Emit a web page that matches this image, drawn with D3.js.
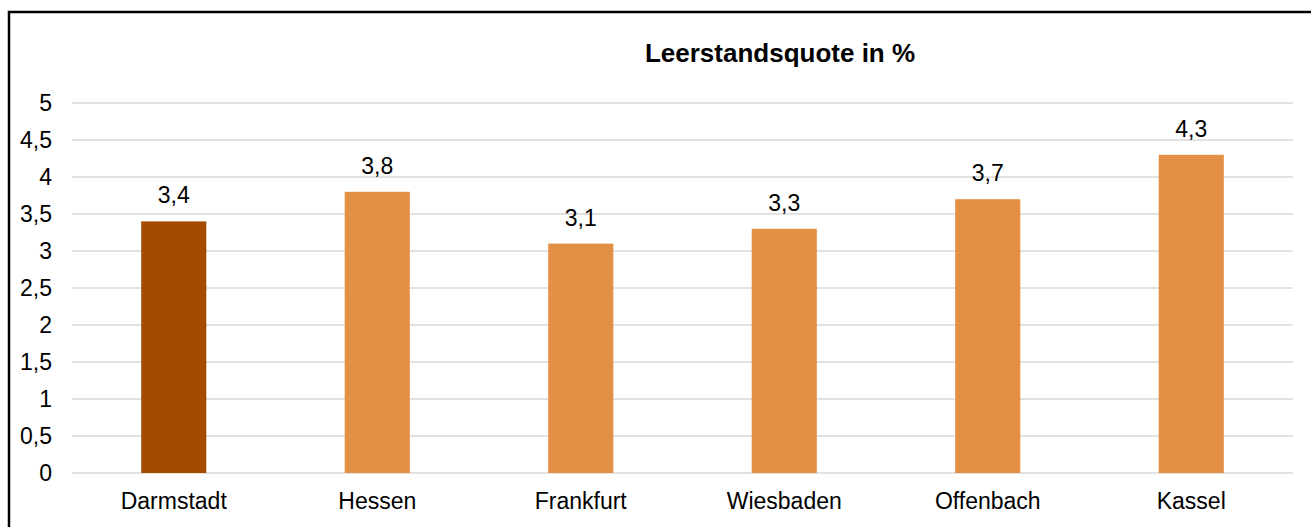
<!DOCTYPE html>
<html>
<head>
<meta charset="utf-8">
<script src="https://cdn.jsdelivr.net/npm/d3@7"></script>
<style>
  html, body { margin: 0; padding: 0; background: #fff; }
  svg { display: block; font-family: "Liberation Sans", Arial, sans-serif; }
</style>
</head>
<body>
<svg id="chart" width="1311" height="527"></svg>
<script>
const categories = ["Darmstadt", "Hessen", "Frankfurt", "Wiesbaden", "Offenbach", "Kassel"];
const values = [3.4, 3.8, 3.1, 3.3, 3.7, 4.3];
const yTicks = [0, 0.5, 1, 1.5, 2, 2.5, 3, 3.5, 4, 4.5, 5];
const highlight = "Darmstadt";

const svg = d3.select("#chart");
const W = 1311, H = 527;
const plot = { left: 72, right: 1293, top: 103, bottom: 473 };
const fontSize = 23;
const fmt = v => String(v).replace(".", ",");

// outer frame
svg.append("rect")
  .attr("x", 9).attr("y", 12)
  .attr("width", W + 20).attr("height", H + 20)
  .attr("fill", "none").attr("stroke", "#000").attr("stroke-width", 2.5);

const x = d3.scaleBand().domain(categories).range([plot.left, plot.right]).padding(0);
const y = d3.scaleLinear().domain([0, 5]).range([plot.bottom, plot.top]);
const barW = x.bandwidth() * 0.32;

// gridlines
svg.append("g").selectAll("line").data(yTicks).join("line")
  .attr("x1", plot.left).attr("x2", plot.right)
  .attr("y1", d => y(d)).attr("y2", d => y(d))
  .attr("stroke", "#d9d9d9").attr("stroke-width", 1.5);

// y axis labels
const yAxis = d3.axisLeft(y).tickValues(yTicks).tickFormat(fmt).tickSize(0).tickPadding(0);
const yg = svg.append("g").attr("transform", `translate(52,0)`).call(yAxis);
yg.select(".domain").remove();
yg.selectAll("text").attr("font-size", fontSize).attr("fill", "#000")
  .attr("font-family", "'Liberation Sans', Arial, sans-serif");

// bars
svg.append("g").selectAll("rect").data(categories).join("rect")
  .attr("x", d => x(d) + (x.bandwidth() - barW) / 2)
  .attr("width", barW)
  .attr("y", (d, i) => y(values[i]))
  .attr("height", (d, i) => y(0) - y(values[i]))
  .attr("fill", d => d === highlight ? "#a34c00" : "#e39046");

// value labels
svg.append("g").selectAll("text").data(categories).join("text")
  .attr("x", d => x(d) + x.bandwidth() / 2)
  .attr("y", (d, i) => y(values[i]) - 18)
  .attr("text-anchor", "middle")
  .attr("font-size", fontSize).attr("fill", "#000")
  .text((d, i) => fmt(values[i]));

// category labels
const xAxis = d3.axisBottom(x).tickSize(0).tickPadding(0);
const xg = svg.append("g").attr("transform", `translate(0,${plot.bottom + 20})`).call(xAxis);
xg.select(".domain").remove();
xg.selectAll("text").attr("font-size", fontSize).attr("fill", "#000")
  .attr("font-family", "'Liberation Sans', Arial, sans-serif");

// title
svg.append("text")
  .attr("x", 780).attr("y", 62)
  .attr("text-anchor", "middle")
  .attr("font-size", 26).attr("font-weight", "bold").attr("fill", "#000")
  .text("Leerstandsquote in %");
</script>
</body>
</html>
